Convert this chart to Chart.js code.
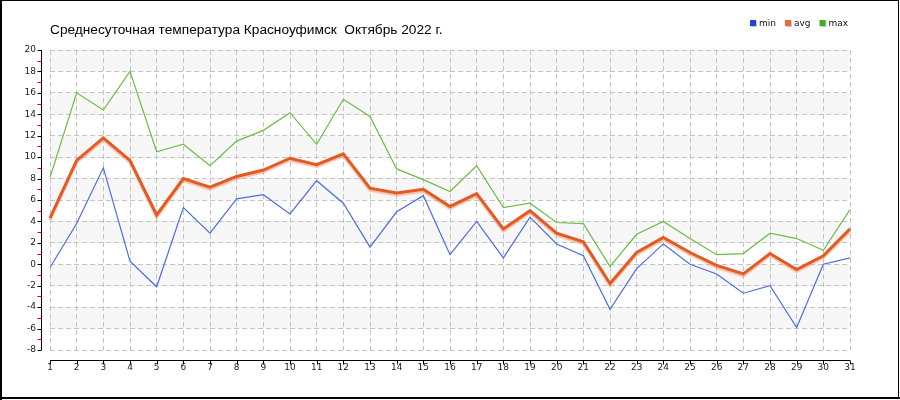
<!DOCTYPE html>
<html>
<head>
<meta charset="utf-8">
<script src="https://cdn.jsdelivr.net/npm/chart.js@4"></script>
<style>
  html, body { margin: 0; padding: 0; background: #fff; }
  canvas { display: block; }
</style>
</head>
<body>
<canvas id="temp-chart" width="900" height="400"></canvas>
<script>
const TITLE = "Среднесуточная температура Красноуфимск  Октябрь 2022 г.";

const days = ["1","2","3","4","5","6","7","8","9","10","11","12","13","14","15","16",
  "17","18","19","20","21","22","23","24","25","26","27","28","29","30","31"];

const minTemp = [-0.3, 3.8, 9.0, 0.3, -2.1, 5.3, 2.9, 6.1, 6.5, 4.7, 7.8, 5.7, 1.6, 4.9, 6.4, 0.9,
  4.0, 0.6, 4.4, 1.9, 0.8, -4.2, -0.4, 1.9, 0.0, -0.9, -2.7, -2.0, -5.9, 0.0, 0.6];
const avgTemp = [4.3, 9.7, 11.8, 9.7, 4.6, 8.0, 7.2, 8.2, 8.8, 9.9, 9.3, 10.3, 7.1, 6.65, 7.0, 5.4,
  6.6, 3.3, 5.0, 2.9, 2.1, -1.8, 1.1, 2.5, 1.1, -0.1, -0.9, 1.0, -0.5, 0.8, 3.3];
const maxTemp = [8.1, 16.0, 14.4, 18.0, 10.5, 11.2, 9.2, 11.5, 12.5, 14.15, 11.2, 15.4, 13.8, 8.9, 7.9, 6.8,
  9.2, 5.3, 5.7, 3.9, 3.8, -0.2, 2.8, 4.0, 2.4, 0.9, 1.0, 2.9, 2.4, 1.3, 5.1];

const yMin = -8;
const yMax = 20;
const yStep = 2;

const legendColors = ["#2044e0", "#ee6a34", "#44ac22"];

// подложка полосами, оси, заголовок, легенда
const decor = {
  id: "decor",
  beforeDraw(chart) {
    const { ctx, chartArea: a, scales } = chart;
    const y = scales.y;
    ctx.save();
    ctx.fillStyle = "#f7f7f7";
    for (let v = yMin; v < yMax; v += yStep) {
      if (((v % 4) + 4) % 4 !== 2) continue;
      const top = y.getPixelForValue(v + yStep);
      const bot = y.getPixelForValue(v);
      ctx.fillRect(a.left, top, a.right - a.left, bot - top);
    }
    ctx.restore();
  },
  beforeDatasetDraw(chart, args) {
    if (args.index === 1) {
      chart.ctx.save();
      chart.ctx.shadowColor = "rgba(240,150,110,0.55)";
      chart.ctx.shadowOffsetY = 2;
      chart.ctx.shadowBlur = 1;
    }
  },
  afterDatasetDraw(chart, args) {
    if (args.index === 1) chart.ctx.restore();
  },
  afterDraw(chart) {
    const { ctx, chartArea: a, scales } = chart;
    const x = scales.x, y = scales.y;
    ctx.save();
    ctx.lineWidth = 1;

    // ось Y
    const ax = a.left - 9 + 0.5;
    ctx.strokeStyle = "#000";
    ctx.beginPath();
    ctx.moveTo(ax, y.getPixelForValue(yMax));
    ctx.lineTo(ax, y.getPixelForValue(yMin));
    ctx.stroke();
    for (let v = yMin; v <= yMax; v += 1) {
      const py = Math.round(y.getPixelForValue(v)) + 0.5;
      ctx.strokeStyle = v % 2 === 0 ? "#000" : "#e00000";
      ctx.beginPath();
      ctx.moveTo(ax - 4, py);
      ctx.lineTo(ax, py);
      ctx.stroke();
    }

    // ось X
    const ay = a.bottom + 10 + 0.5;
    ctx.strokeStyle = "#000";
    ctx.beginPath();
    ctx.moveTo(a.left, ay);
    ctx.lineTo(a.right, ay);
    ctx.stroke();
    days.forEach((d, i) => {
      const px = Math.round(x.getPixelForValue(i)) + 0.5;
      ctx.beginPath();
      ctx.moveTo(px, ay);
      ctx.lineTo(px, ay + 4);
      ctx.stroke();
    });

    // заголовок
    ctx.fillStyle = "#000";
    ctx.font = "13.7px 'Liberation Sans', Arial, sans-serif";
    ctx.textBaseline = "alphabetic";
    ctx.textAlign = "left";
    ctx.fillText(TITLE, 50, 34);

    // легенда
    ctx.font = "9px 'DejaVu Sans', sans-serif";
    let lx = 750;
    chart.data.datasets.forEach((ds, i) => {
      ctx.fillStyle = "#c8c8c8";
      ctx.fillRect(lx + 1, 21, 6, 6);
      ctx.fillStyle = legendColors[i];
      ctx.fillRect(lx, 20, 6, 6);
      ctx.fillStyle = "#111";
      ctx.fillText(ds.label, lx + 9, 26);
      lx += 9 + ctx.measureText(ds.label).width + 9;
    });

    // рамка
    ctx.strokeStyle = "#000";
    ctx.lineWidth = 1;
    ctx.strokeRect(0.5, 0.5, 898, 398);
    ctx.fillStyle = "#000";
    ctx.fillRect(0, 0, 2, 400);
    ctx.fillRect(0, 397, 900, 2);
    ctx.restore();
  }
};

const tickFont = { family: "'DejaVu Sans', sans-serif", size: 9 };

new Chart(document.getElementById("temp-chart"), {
  type: "line",
  data: {
    labels: days,
    datasets: [
      { label: "min", data: minTemp, borderColor: "#4a6de4", borderWidth: 1.2 },
      { label: "avg", data: avgTemp, borderColor: "#e35a24", borderWidth: 3 },
      { label: "max", data: maxTemp, borderColor: "#6cbd44", borderWidth: 1.2 }
    ]
  },
  options: {
    responsive: false,
    animation: false,
    devicePixelRatio: 1,
    layout: { padding: { left: 0, top: 50, right: 50, bottom: 0 } },
    elements: {
      point: { radius: 0, hoverRadius: 0 },
      line: { tension: 0, fill: false }
    },
    plugins: {
      legend: { display: false },
      title: { display: false },
      tooltip: { enabled: false }
    },
    scales: {
      x: {
        offset: false,
        grid: { color: "#c4c4c4", drawTicks: false },
        border: { display: false, dash: [5, 3] },
        ticks: { color: "#222", font: tickFont, padding: 12, maxRotation: 0, autoSkip: false },
        afterFit(scale) { scale.height = 50; }
      },
      y: {
        min: yMin,
        max: yMax,
        grid: { color: "#c4c4c4", drawTicks: false },
        border: { display: false, dash: [5, 3] },
        ticks: { stepSize: yStep, color: "#222", font: tickFont, padding: 14 },
        afterFit(scale) { scale.width = 50; }
      }
    }
  },
  plugins: [decor]
});
</script>
</body>
</html>
